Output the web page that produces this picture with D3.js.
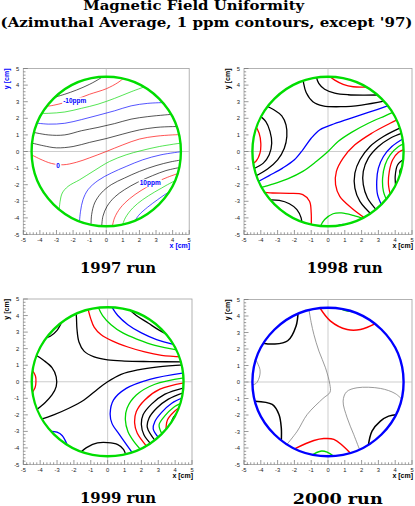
<!DOCTYPE html>
<html><head><meta charset="utf-8">
<script src="https://cdn.jsdelivr.net/npm/d3@7"></script>
<style>body{margin:0;background:#fff}svg{display:block}</style>
</head><body><svg id="c" width="415" height="506"></svg>
<script>
// ---------------- DATA (cm coordinates, contour level in ppm) ----------------
const titleLines = ["Magnetic Field Uniformity", "(Azimuthal Average, 1 ppm contours, except '97)"];
const runNames = ["1997 run", "1998 run", "1999 run", "2000 run"];
const tickLabels = [-5, -4, -3, -2, -1, 0, 1, 2, 3, 4, 5];
const axisTitles = ["x [cm]", "y [cm]"];
const apertureRadius = 4.5;

const contours1997 = [
  {level: -12, pts: [[-3.35,3.2],[-2.5,3.45],[-1.8,3.7],[-1.0,4.05],[-0.3,4.45],[-0.1,4.62]]},
  {level: -10, pts: [[-3.8,2.7],[-3.2,2.78],[-2.5,2.95],[-1.8,3.15],[-1.0,3.45],[0,3.78],[0.7,4.15],[1.15,4.5]]},
  {level: -8, pts: [[-4.4,2.3],[-3.5,2.3],[-2.5,2.38],[-1.5,2.6],[-0.5,2.85],[0.5,3.2],[1.5,3.6],[2.45,3.95]]},
  {level: -6, pts: [[-4.5,1.75],[-3.5,1.65],[-2.5,1.7],[-1.5,1.92],[-0.5,2.18],[0.5,2.45],[1.5,2.75],[2.5,2.9],[3.55,2.95]]},
  {level: -4, pts: [[-4.6,1.2],[-3.5,1.0],[-2.5,1.0],[-1.5,1.25],[-0.5,1.45],[0.5,1.68],[1.5,1.95],[2.5,2.1],[3.5,2.2],[4.1,2.25]]},
  {level: -2, pts: [[-4.65,0.55],[-3.8,0.35],[-3.0,0.22],[-2.0,0.3],[-1.0,0.55],[0,0.78],[1,1.05],[2,1.3],[3,1.45],[4,1.5],[4.45,1.5]]},
  {level: 0, pts: [[-4.65,-0.12],[-4.0,-0.45],[-3.3,-0.72],[-2.6,-0.8],[-1.8,-0.65],[-1.0,-0.38],[0,0],[1,0.4],[2,0.75],[3,0.92],[4,1.0],[4.6,1.02]]},
  {level: 2, pts: [[-2.85,-3.65],[-2.78,-3.0],[-2.65,-2.5],[-2.3,-2.1],[-1.6,-1.7],[-0.8,-1.2],[0.2,-0.6],[1.2,-0.2],[2.1,0.05],[3.2,0.3],[4.6,0.52]]},
  {level: 4, pts: [[-1.62,-4.3],[-1.55,-3.6],[-1.4,-2.9],[-1.1,-2.3],[-0.5,-1.75],[0.3,-1.3],[1.2,-0.9],[2.2,-0.5],[3.3,-0.2],[4.6,0.0]]},
  {level: 6, pts: [[-0.92,-4.5],[-0.88,-3.8],[-0.7,-3.1],[-0.3,-2.5],[0.3,-2.0],[1.1,-1.6],[2,-1.2],[3,-0.85],[3.9,-0.62],[4.6,-0.5]]},
  {level: 8, pts: [[-0.28,-4.6],[-0.2,-3.9],[0.05,-3.3],[0.5,-2.75],[1.1,-2.3],[1.9,-1.85],[2.8,-1.45],[3.6,-1.15],[4.5,-0.95]]},
  {level: 10, pts: [[0.35,-4.6],[0.5,-4.0],[0.85,-3.4],[1.4,-2.85],[2.1,-2.35],[2.9,-1.9],[3.7,-1.55],[4.4,-1.3]]},
  {level: 12, pts: [[0.92,-4.6],[1.15,-4.0],[1.6,-3.4],[2.2,-2.9],[2.9,-2.45],[3.6,-2.05],[4.25,-1.7]]},
  {level: 14, pts: [[1.6,-4.4],[1.95,-3.85],[2.5,-3.35],[3.1,-2.9],[3.6,-2.55],[4.0,-2.3]]}
];
const labels1997 = [
  {text: "-10ppm", x: -1.9, y: 3.03},
  {text: "0", x: -2.9, y: -0.86},
  {text: "10ppm", x: 2.65, y: -1.9}
];

const contours1998 = [
  {level: 5, pts: [[-0.05,4.65],[0.4,4.3],[0.9,4.05],[1.5,3.9],[2.2,3.88],[2.6,3.9]]},
  {level: 4, pts: [[-0.72,4.6],[-0.55,4.1],[-0.2,3.75],[0.4,3.52],[1.2,3.42],[2.2,3.4],[3.2,3.42]]},
  {level: 3, pts: [[-1.5,4.6],[-1.45,4.1],[-1.3,3.55],[-0.9,3.0],[-0.3,2.75],[0.8,2.7],[2,2.8],[3.4,3.05]]},
  {level: 3, pts: [[-3.8,2.8],[-3.2,2.5],[-2.75,2.15],[-2.5,1.6],[-2.45,0.9],[-2.6,0.2],[-3.0,-0.5],[-3.6,-1.05],[-4.35,-1.5]]},
  {level: 4, pts: [[-4.2,2.25],[-3.7,1.8],[-3.45,1.2],[-3.35,0.5],[-3.5,-0.2],[-3.85,-0.7],[-4.45,-1.05]]},
  {level: 5, pts: [[-4.35,1.6],[-4.1,1.1],[-4.0,0.5],[-4.05,-0.1],[-4.3,-0.6],[-4.6,-0.75]]},
  {level: 2, pts: [[-4.4,-1.95],[-3.5,-1.45],[-2.7,-1.0],[-2.0,-0.5],[-1.5,0.1],[-1.0,0.8],[-0.5,1.3],[0.2,1.6],[1.2,1.95],[2.4,2.35],[3.75,2.82]]},
  {level: 1, pts: [[-4.35,-2.28],[-3.4,-2.0],[-2.4,-1.65],[-1.5,-1.2],[-0.7,-0.6],[0,0],[0.6,0.6],[1.4,1.15],[2.4,1.7],[3.4,2.15],[4.0,2.42]]},
  {level: 0, pts: [[-4.05,-2.45],[-3.3,-2.5],[-2.3,-2.52],[-1.5,-2.6],[-1.1,-3.0],[-1.0,-3.7],[-1.0,-4.55]]},
  {level: -1, pts: [[-3.45,-2.92],[-2.9,-2.95],[-2.3,-3.15],[-1.85,-3.5],[-1.6,-4.0],[-1.55,-4.4]]},
  {level: 1, pts: [[-0.5,-4.6],[-0.2,-4.1],[0.3,-3.75],[0.8,-3.7],[1.5,-3.85],[2.25,-4.1]]},
  {level: 2, pts: [[0.4,-4.58],[0.7,-4.42],[1.0,-4.4],[1.35,-4.5]]},
  {level: 0, pts: [[2.25,-4.05],[1.4,-3.4],[0.7,-2.7],[0.45,-2.0],[0.5,-1.2],[0.9,-0.4],[1.6,0.4],[2.6,1.1],[3.7,1.7],[4.25,1.98]]},
  {level: -1, pts: [[2.65,-3.85],[1.9,-3.0],[1.6,-2.2],[1.6,-1.3],[1.9,-0.5],[2.5,0.3],[3.3,0.9],[4.3,1.42]]},
  {level: -2, pts: [[2.95,-3.6],[2.35,-2.8],[2.1,-2.0],[2.1,-1.2],[2.4,-0.4],[3.0,0.3],[3.7,0.8],[4.45,1.12]]},
  {level: -3, pts: [[3.25,-3.35],[2.95,-2.6],[2.9,-1.8],[3.0,-1.0],[3.3,-0.3],[3.8,0.3],[4.5,0.78]]},
  {level: -4, pts: [[3.55,-3.05],[3.3,-2.4],[3.25,-1.6],[3.4,-0.8],[3.7,-0.2],[4.2,0.3],[4.6,0.5]]},
  {level: -5, pts: [[3.75,-2.75],[3.6,-2.0],[3.65,-1.2],[3.85,-0.5],[4.2,-0.05],[4.6,0.15]]},
  {level: -6, pts: [[4.05,-2.25],[4.0,-1.5],[4.15,-0.8],[4.6,-0.4]]},
  {level: -7, pts: [[4.3,-1.65],[4.3,-1.1],[4.6,-0.8]]}
];

const contours1999 = [
  {level: 8, pts: [[1.1,4.55],[1.7,4.0],[2.4,3.55],[3.0,3.15],[3.7,2.78]]},
  {level: 7, pts: [[0.2,4.6],[0.6,4.0],[1.2,3.45],[2.0,2.95],[2.9,2.55],[3.95,2.25]]},
  {level: 6, pts: [[-0.6,4.6],[-0.3,4.0],[0.2,3.45],[0.9,2.95],[1.8,2.55],[2.8,2.2],[4.25,1.9]]},
  {level: 5, pts: [[-1.2,4.55],[-1.0,3.8],[-0.8,3.3],[-0.4,2.85],[0.3,2.45],[1.2,2.1],[2.2,1.8],[3.2,1.6],[4.45,1.5]]},
  {level: 4, pts: [[-1.9,4.62],[-1.85,3.9],[-1.82,3.2],[-1.7,2.4],[-1.4,1.85],[-0.8,1.5],[0,1.32],[1,1.25],[2.5,1.22],[4.65,1.2]]},
  {level: 3, pts: [[-4.05,-2.3],[-3.2,-2.0],[-2.3,-1.6],[-1.4,-1.1],[-0.6,-0.45],[0,0],[0.8,0.45],[1.8,0.72],[3,0.9],[4.6,1.02]]},
  {level: 4, pts: [[-4.35,1.68],[-3.8,1.3],[-3.3,0.85],[-3.05,0.3],[-3.05,-0.3],[-3.3,-0.8],[-3.7,-1.25],[-4.25,-1.72]]},
  {level: 5, pts: [[-4.5,0.75],[-4.28,0.35],[-4.25,0],[-4.3,-0.35],[-4.5,-0.7]]},
  {level: 3, pts: [[-3.9,2.58],[-3.4,2.75],[-3.0,3.1],[-2.7,3.65]]},
  {level: 2, pts: [[-3.45,-2.98],[-3.0,-3.05],[-2.7,-3.25],[-2.4,-3.8]]},
  {level: 3, pts: [[-1.7,-4.35],[-1.2,-3.95],[-0.6,-3.7],[0,-3.68],[0.6,-3.8],[0.95,-4.1],[1.1,-4.55]]},
  {level: 2, pts: [[4.6,0.55],[2.5,0.15],[1.1,-0.4],[0.35,-1.1],[0.15,-1.9],[0.25,-2.5],[0.7,-3.2],[1.5,-4.35]]},
  {level: 1, pts: [[4.6,0.25],[2.8,-0.15],[1.7,-0.8],[1.15,-1.6],[1.05,-2.3],[1.2,-3.0],[1.55,-3.6],[2.0,-4.15]]},
  {level: 0, pts: [[4.6,-0.05],[3.1,-0.45],[2.2,-1.1],[1.7,-1.8],[1.6,-2.5],[1.75,-3.1],[2.35,-3.95]]},
  {level: -1, pts: [[4.6,-0.35],[3.4,-0.75],[2.6,-1.35],[2.1,-2.0],[2.0,-2.6],[2.15,-3.2],[2.6,-3.8]]},
  {level: -2, pts: [[4.55,-0.65],[3.6,-1.05],[2.9,-1.6],[2.45,-2.2],[2.35,-2.75],[2.85,-3.6]]},
  {level: -3, pts: [[4.5,-0.95],[3.8,-1.3],[3.2,-1.85],[2.8,-2.4],[2.7,-2.85],[3.05,-3.42]]},
  {level: -4, pts: [[4.45,-1.25],[3.9,-1.55],[3.4,-2.05],[3.05,-2.6],[3.25,-3.22]]},
  {level: -5, pts: [[4.35,-1.5],[3.95,-1.8],[3.55,-2.3],[3.45,-3.05]]},
  {level: -6, pts: [[4.25,-1.75],[3.9,-2.15],[3.65,-2.85]]},
  {level: -7, pts: [[4.15,-2.0],[3.95,-2.3],[3.85,-2.6]]}
];

const contours2000 = [
  {level: 0, pts: [[-1.16,4.55],[-1.0,3.6],[-0.84,2.88],[-0.54,1.87],[-0.15,0.86],[0.11,-0.15],[0.12,-0.62],[-0.3,-1.0],[-1.24,-1.97],[-1.83,-2.98],[-2.5,-3.85]]},
  {level: 0, pts: [[4.45,-1.1],[4.0,-0.7],[3.12,-0.39],[1.73,-0.35],[1.1,-0.6],[0.9,-1.16],[1.14,-2.17],[1.53,-3.18],[1.9,-4.15]]},
  {level: 0, pts: [[-4.35,1.45],[-4.05,0.75],[-4.1,0.25],[-4.3,-0.1],[-4.6,-0.2]]},
  {level: -1, pts: [[-1.78,4.25],[-1.9,3.4],[-2.4,2.5],[-3.2,2.3],[-3.95,2.37]]},
  {level: -1, pts: [[-4.35,-1.16],[-3.32,-1.36],[-2.92,-1.97],[-2.78,-2.78],[-2.78,-3.6]]},
  {level: -1, pts: [[2.4,-3.85],[2.62,-2.98],[3.12,-2.37],[3.61,-2.07],[4.15,-1.97]]},
  {level: 1, pts: [[-0.55,4.6],[0.15,3.69],[1.14,3.18],[1.93,3.18],[2.85,3.55]]},
  {level: 1, pts: [[-2.05,-4.08],[-0.84,-3.55],[-0.25,-3.43],[0.35,-3.48],[1.4,-4.38]]},
  {level: 2, pts: [[0.45,4.6],[1.04,4.33],[1.7,4.25]]},
  {level: 2, pts: [[-1.0,-4.45],[-0.45,-4.19],[-0.05,-4.25],[0.4,-4.55]]}
];

// ---------------- LAYOUT ----------------
const W = 415, H = 506;
const svg = d3.select("#c");
const cycle = ["#ff0000", "#00d800", "#0000ff", "#000000", "#000000"];
const cycleColor = k => cycle[((k % 5) + 5) % 5];
const color2000 = d3.scaleOrdinal([-1, 0, 1, 2], ["#000000", "#808080", "#ff0000", "#00d800"]);

const panels = [
  {lines: contours1997, labels: labels1997, x0: 23.3, x1: 189.2, y0: 68.5, y1: 234.5,
   color: d => cycleColor(d.level / 2), lw: () => 0.9, op: 0.75, ring: "#00dd00",
   axisColor: "#0000ff", title: runNames[0], tx: 118, ty: 272.5, tw: 76, tfs: 15.5},
  {lines: contours1998, labels: [], x0: 244, x1: 412, y0: 68.5, y1: 234.5,
   color: d => cycleColor(d.level), lw: () => 1.3, op: 1, ring: "#00dd00",
   axisColor: "#000000", title: runNames[1], tx: 344.7, ty: 272.5, tw: 76, tfs: 15.5},
  {lines: contours1999, labels: [], x0: 23.3, x1: 192, y0: 299, y1: 464.5,
   color: d => cycleColor(d.level), lw: () => 1.3, op: 1, ring: "#00dd00",
   axisColor: "#000000", title: runNames[2], tx: 118, ty: 502.5, tw: 76, tfs: 15.5},
  {lines: contours2000, labels: [], x0: 244, x1: 412, y0: 299.5, y1: 464.5,
   color: d => color2000(d.level), lw: d => d.level === 0 ? 0.8 : 1.5, op: 1, ring: "#0000ff",
   axisColor: "#000000", title: runNames[3], tx: 337.7, ty: 503.5, tw: 90, tfs: 15.5}
];

// main title
svg.append("text").attr("x", 193.7).attr("y", 9.6).attr("text-anchor", "middle")
  .attr("font-family", "DejaVu Serif").attr("font-weight", "bold").attr("font-size", 12)
  .attr("textLength", 221).attr("lengthAdjust", "spacingAndGlyphs").text(titleLines[0]);
svg.append("text").attr("x", 206.5).attr("y", 27).attr("text-anchor", "middle")
  .attr("font-family", "DejaVu Serif").attr("font-weight", "bold").attr("font-size", 12)
  .attr("textLength", 412).attr("lengthAdjust", "spacingAndGlyphs").text(titleLines[1]);

panels.forEach((p, i) => {
  const x = d3.scaleLinear().domain([-5, 5]).range([p.x0, p.x1]);
  const y = d3.scaleLinear().domain([-5, 5]).range([p.y1, p.y0]);
  const g = svg.append("g");
  const cx = x(0), cy = y(0);
  const rx = x(apertureRadius) - x(0), ry = y(0) - y(apertureRadius);

  // frame
  g.append("rect").attr("x", p.x0).attr("y", p.y0).attr("width", p.x1 - p.x0).attr("height", p.y1 - p.y0)
    .attr("fill", "none").attr("stroke", "#a0a0a0").attr("stroke-width", 0.8);
  // cross hairs
  g.append("line").attr("x1", x(0)).attr("x2", x(0)).attr("y1", p.y0).attr("y2", p.y1).attr("stroke", "#c0c0c0").attr("stroke-width", 0.8);
  g.append("line").attr("x1", p.x0).attr("x2", p.x1).attr("y1", y(0)).attr("y2", y(0)).attr("stroke", "#c0c0c0").attr("stroke-width", 0.8);

  // ticks (inward)
  const minor = x.ticks(50);
  const tg = g.append("g").attr("stroke", "#707070").attr("stroke-width", 0.7);
  minor.forEach(v => {
    const major = Math.abs(v - Math.round(v)) < 1e-6;
    const L = major ? 4.5 : 2.2;
    tg.append("line").attr("x1", x(v)).attr("x2", x(v)).attr("y1", p.y1).attr("y2", p.y1 - L);
    tg.append("line").attr("x1", p.x0).attr("x2", p.x0 + L).attr("y1", y(v)).attr("y2", y(v));
  });
  // tick labels
  tickLabels.forEach(v => {
    g.append("text").attr("x", x(v)).attr("y", p.y1 + 7).attr("text-anchor", "middle")
      .attr("font-family", "Liberation Sans, Arial").attr("font-size", 5.8).attr("fill", "#222").text(v);
    g.append("text").attr("x", p.x0 - 4).attr("y", y(v) + 2).attr("text-anchor", "end")
      .attr("font-family", "Liberation Sans, Arial").attr("font-size", 5.8).attr("fill", "#222").text(v);
  });
  // axis titles
  g.append("text").attr("x", p.x1 + 1).attr("y", p.y1 + 13.5).attr("text-anchor", "end")
    .attr("font-family", "Liberation Sans, Arial").attr("font-weight", "bold").attr("font-size", 7)
    .attr("fill", p.axisColor).text(axisTitles[0]);
  g.append("text").attr("transform", `translate(${p.x0 - 14},${p.y0}) rotate(-90)`).attr("text-anchor", "end")
    .attr("font-family", "Liberation Sans, Arial").attr("font-weight", "bold").attr("font-size", 7)
    .attr("fill", p.axisColor).text(axisTitles[1]);

  // clip to aperture
  const clipId = "clip" + i;
  g.append("clipPath").attr("id", clipId).append("ellipse")
    .attr("cx", cx).attr("cy", cy).attr("rx", rx).attr("ry", ry);

  const line = d3.line().x(d => x(d[0])).y(d => y(d[1])).curve(d3.curveCatmullRom.alpha(0.5));
  const cg = g.append("g").attr("clip-path", `url(#${clipId})`);
  cg.selectAll("path").data(p.lines).join("path")
    .attr("d", d => line(d.pts)).attr("fill", "none")
    .attr("stroke", p.color).attr("stroke-width", p.lw).attr("stroke-opacity", p.op)
    .attr("stroke-linejoin", "round");

  // contour labels
  p.labels.forEach(l => {
    const t = g.append("text").attr("x", x(l.x)).attr("y", y(l.y) + 2.2).attr("text-anchor", "middle")
      .attr("font-family", "Liberation Sans, Arial").attr("font-weight", "bold").attr("font-size", 6.5)
      .attr("fill", "#0000ff").text(l.text);
    const b = t.node().getBBox();
    g.insert("rect", () => t.node()).attr("x", b.x - 1).attr("y", b.y).attr("width", b.width + 2).attr("height", b.height)
      .attr("fill", "#fff");
  });

  // aperture ring
  g.append("ellipse").attr("cx", cx).attr("cy", cy).attr("rx", rx).attr("ry", ry)
    .attr("fill", "none").attr("stroke", p.ring).attr("stroke-width", 2.4);

  // run title
  svg.append("text").attr("x", p.tx).attr("y", p.ty).attr("text-anchor", "middle")
    .attr("font-family", "DejaVu Serif").attr("font-weight", "bold").attr("font-size", p.tfs)
    .attr("textLength", p.tw).attr("lengthAdjust", "spacingAndGlyphs").text(p.title);
});
</script></body></html>
